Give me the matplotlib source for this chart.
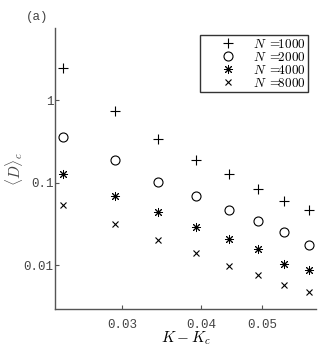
import matplotlib
matplotlib.use("Agg")
import matplotlib.pyplot as plt
import matplotlib.ticker as mticker

plt.rcParams['mathtext.fontset'] = 'cm'

x_vals = [0.0242, 0.0292, 0.0342, 0.0392, 0.0442, 0.0492, 0.0542, 0.0592]
d_1000 = [2.44, 0.740, 0.339, 0.188, 0.126, 0.084, 0.0605, 0.0467]
d_2000 = [0.361, 0.185, 0.102, 0.0677, 0.0458, 0.0340, 0.0253, 0.0174]
d_4000 = [0.126, 0.0684, 0.0438, 0.0290, 0.0206, 0.0156, 0.0104, 0.00875]
d_8000 = [0.0541, 0.0313, 0.0202, 0.0139, 0.0097, 0.00754, 0.00565, 0.00477]
labels = [r"$N\;=\!\!1000$", r"$N\;=\!\!2000$", r"$N\;=\!\!4000$", r"$N\;=\!\!8000$"]
xticks = [0.03, 0.04, 0.05]
xtick_labels = ["0.03", "0.04", "0.05"]
yticks = [0.01, 0.1, 1]
ytick_labels = ["0.01", "0.1", "1"]

fig = plt.figure(figsize=(3.27, 3.5), dpi=100)
ax = fig.add_axes([55/327, 1-309/350, (316-55)/327, (309-28)/350])

ax.plot(x_vals, d_1000, linestyle='none', marker='+', ms=7, mew=0.8, color='black', label=labels[0])
ax.plot(x_vals, d_2000, linestyle='none', marker='o', ms=6.5, mew=0.8, mfc='none', color='black', label=labels[1])
ax.plot(x_vals, d_4000, linestyle='none', marker=(8, 2, 0), ms=6.5, mew=0.7, color='black', label=labels[2])
ax.plot(x_vals, d_8000, linestyle='none', marker='x', ms=5, mew=0.8, color='black', label=labels[3])

ax.set_xscale('log')
ax.set_yscale('log')
ax.set_xlim(0.02348, 0.0608)
ax.set_ylim(0.00293, 7.46)

ax.xaxis.set_major_locator(mticker.FixedLocator(xticks))
ax.xaxis.set_major_formatter(mticker.FixedFormatter(xtick_labels))
ax.xaxis.set_minor_locator(mticker.NullLocator())
ax.yaxis.set_major_locator(mticker.FixedLocator(yticks))
ax.yaxis.set_major_formatter(mticker.FixedFormatter(ytick_labels))
ax.yaxis.set_minor_locator(mticker.NullLocator())

for s in ['top', 'right']:
    ax.spines[s].set_visible(False)
for s in ['left', 'bottom']:
    ax.spines[s].set_color('#555555')
    ax.spines[s].set_linewidth(1.0)

ax.tick_params(direction='in', length=3, width=0.8, color='#555555',
               labelcolor='#444444', labelsize=9)
for lab in ax.get_xticklabels() + ax.get_yticklabels():
    lab.set_family('Liberation Mono')
ax.tick_params(axis='x', pad=7)
ax.tick_params(axis='y', pad=1)

ax.set_xlabel(r"$K-K_c$", fontsize=11)
ax.xaxis.set_label_coords(0.5, (309-338)/281, transform=ax.transAxes)
ax.get_xaxis().label.set_va('center')
ax.set_ylabel(r"$\langle D\rangle_c$", fontsize=11, color='#444444')
ax.yaxis.set_label_coords((14-55)/261, 0.5, transform=ax.transAxes)
ax.get_yaxis().label.set_va('center')

leg = ax.legend(loc='upper right', bbox_to_anchor=(1.0 - 8/261, 1.0 - 7/281),
                frameon=True, fancybox=False, edgecolor='black', fontsize=9.5,
                labelspacing=0.0, handletextpad=0.0, borderpad=0.2,
                handlelength=3.8, borderaxespad=0.0)
leg.get_frame().set_linewidth(1.0)

fig.text(37/327, 1-17/350, "(a)", family='Liberation Mono', fontsize=9,
         ha='center', va='center', color='#444444')

fig.savefig("out.png", dpi=100)
